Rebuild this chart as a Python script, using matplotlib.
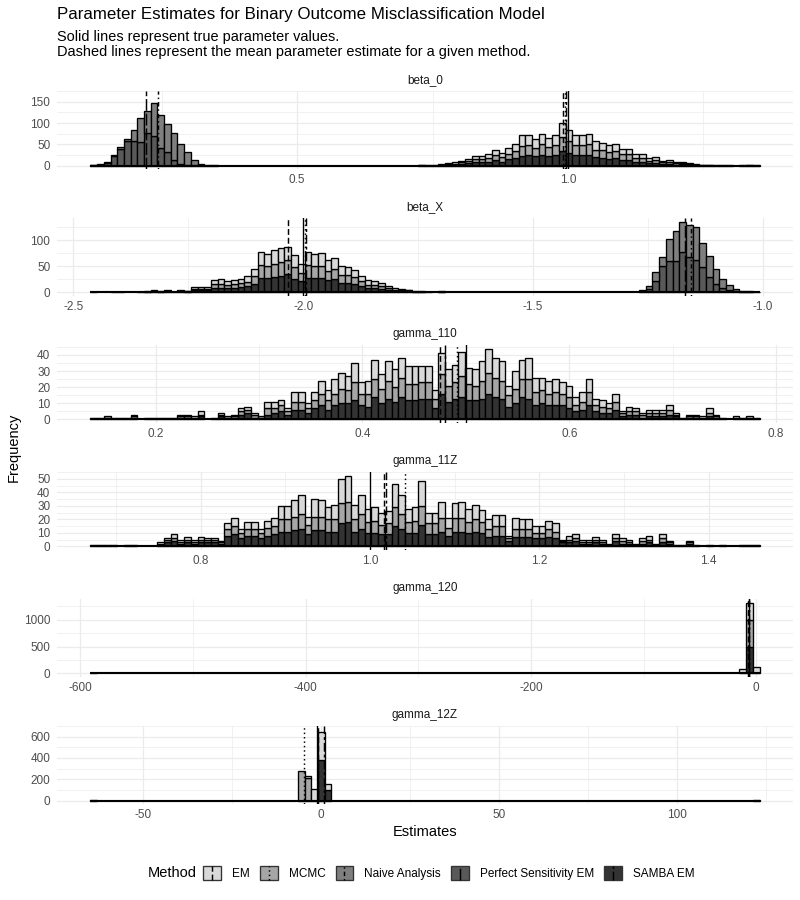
import matplotlib
matplotlib.use("Agg")
import matplotlib.pyplot as plt
import numpy as np
from matplotlib.legend_handler import HandlerBase
from matplotlib.patches import Rectangle
from matplotlib.lines import Line2D

plt.rcParams['font.family'] = ['Liberation Sans', 'DejaVu Sans']

# methods, in legend order (first level is stacked on top)
methods = ["EM", "MCMC", "Naive Analysis", "Perfect Sensitivity EM", "SAMBA EM"]
fills = ["#D9D9D9", "#A6A6A6", "#7F7F7F", "#595959", "#333333"]
dashes = [(0, (4, 2)), (0, (1, 2)), (0, (1, 2, 3, 2)), (0, (8, 2)), (0, (6, 2, 2, 2))]

params = ["beta_0", "beta_X", "gamma_110", "gamma_11Z", "gamma_120", "gamma_12Z"]
NBINS = 100
# histogram range (min / max estimate) per parameter
range_lo = [0.118, -2.463, 0.137, 0.670, -591.0, -64.9]
range_hi = [1.354, -1.007, 0.784, 1.460, 3.0, 123.3]

true_vals = [1.0, -2.0, 0.5, 1.0, -6.8, -1.1]
mean_em = [0.991, -2.034, 0.475, 1.017, -7.4, -1.0]
mean_mcmc = [0.994, -1.997, 0.491, 1.041, -6.3, -4.9]
mean_naive = [0.243, -1.156, None, None, None, None]
mean_perfect = [0.221, -1.170, None, None, None, None]
mean_samba = [0.997, -1.993, 0.480, 1.019, -6.8, 0.85]

# ---- bin counts ----
# beta_0
b0_em = [0, 1, 0, 1, 2, 3, 4, 6, 8, 7, 9, 12, 10, 14, 16, 24, 23, 20, 25, 21, 24, 33, 28, 23, 23, 25,
         19, 17, 16, 16, 13, 13, 9, 9, 6, 7, 4, 5, 3, 3, 2, 1, 0, 1, 0, 0, 0, 0, 0, 1, 0]
b0_mcmc = [1, 0, 0, 1, 2, 2, 4, 5, 8, 7, 8, 12, 10, 13, 16, 23, 23, 20, 24, 21, 24, 32, 27, 23, 23, 24,
           18, 17, 15, 16, 13, 13, 8, 9, 6, 6, 4, 4, 3, 3, 2, 2, 1, 0, 1, 0, 1, 0, 0, 0, 1]
b0_samba = [1, 0, 1, 2, 2, 3, 4, 6, 8, 8, 10, 13, 10, 15, 18, 24, 25, 22, 26, 23, 25, 35, 30, 25, 25, 26,
            20, 19, 17, 18, 14, 14, 10, 10, 6, 7, 4, 5, 3, 4, 2, 1, 1, 1, 0, 1, 0, 0, 1, 1, 0]
b0_naive = [1, 2, 3, 3, 4, 4, 27, 56, 51, 76, 76, 67, 64, 45, 29, 12, 5, 2, 1]
b0_perfect = [1, 2, 6, 22, 40, 58, 58, 56, 78, 70, 42, 32, 14, 5, 3, 1, 0, 0, 0]

# beta_X
bx_em = [1, 0, 0, 0, 0, 0, 0, 1, 1, 1, 0, 1, 1, 1, 1, 4, 3, 3, 8, 8, 7, 7, 8, 10, 14, 25, 24, 27, 27, 26,
         24, 17, 26, 24, 25, 21, 22, 16, 15, 15, 10, 8, 7, 6, 4, 3, 2, 1, 1, 0, 1, 0, 1]
bx_mcmc = [0, 0, 0, 0, 1, 0, 0, 0, 0, 1, 1, 1, 0, 1, 1, 3, 3, 3, 7, 8, 7, 7, 8, 9, 14, 24, 23, 25, 27, 26,
           22, 16, 24, 23, 23, 19, 20, 16, 15, 13, 10, 7, 7, 6, 4, 2, 2, 2, 0, 1, 0, 0, 0]
bx_samba = [0, 0, 0, 1, 0, 0, 0, 0, 1, 2, 1, 2, 0, 2, 1, 4, 4, 4, 9, 9, 8, 9, 10, 12, 17, 28, 27, 30, 32, 36,
            26, 22, 28, 27, 28, 23, 25, 18, 18, 16, 12, 8, 8, 7, 4, 3, 3, 2, 1, 1, 0, 0, 1]
bx_naive = [2, 6, 18, 18, 42, 58, 58, 62, 64, 47, 40, 29, 17, 10, 4, 2, 1, 1]
bx_perfect = [2, 6, 22, 50, 60, 60, 78, 68, 62, 48, 30, 16, 8, 4, 2, 1, 1, 0]

# gamma_110
g110_em = [0, 0, 0, 0, 0, 0, 1, 0, 0, 0, 0, 0, 0, 1, 1, 1, 2, 0, 0, 1,
           0, 1, 2, 2, 1, 0, 4, 4, 3, 2, 6, 6, 3, 5, 8, 6, 9, 10, 9, 12,
           7, 8, 12, 9, 12, 11, 12, 11, 11, 10, 10, 5, 13, 10, 11, 15, 10, 10, 12, 15,
           12, 12, 6, 11, 12, 13, 9, 8, 8, 8, 7, 7, 5, 6, 8, 4, 4, 3, 5, 1,
           3, 2, 1, 2, 2, 2, 3, 1, 0, 1, 1, 1, 3, 1, 1, 0, 1, 0, 1, 0]
g110_mcmc = [0, 0, 1, 0, 1, 0, 1, 0, 0, 1, 0, 1, 0, 1, 1, 0, 1, 0, 1, 1,
             1, 1, 2, 2, 2, 1, 4, 3, 4, 2, 5, 5, 3, 5, 7, 6, 7, 9, 8, 11,
             7, 8, 11, 9, 11, 9, 12, 10, 10, 10, 10, 6, 12, 10, 10, 13, 10, 9, 11, 13,
             12, 11, 7, 9, 11, 12, 8, 8, 7, 8, 7, 7, 4, 5, 8, 4, 4, 3, 5, 2,
             2, 2, 2, 2, 2, 2, 3, 1, 1, 1, 1, 0, 2, 1, 0, 0, 0, 1, 0, 1]
g110_samba = [1, 1, 1, 1, 0, 1, 1, 0, 1, 0, 1, 0, 1, 1, 1, 1, 2, 0, 0, 2,
              1, 1, 3, 4, 1, 1, 3, 4, 5, 3, 6, 6, 4, 7, 9, 6, 9, 10, 10, 12,
              9, 8, 14, 10, 13, 11, 14, 12, 12, 13, 13, 7, 16, 11, 13, 14, 12, 12, 13, 16,
              14, 13, 8, 10, 14, 13, 9, 10, 9, 9, 9, 7, 5, 6, 9, 5, 4, 4, 6, 2,
              3, 3, 1, 2, 2, 2, 3, 2, 0, 1, 1, 1, 2, 1, 0, 0, 1, 0, 1, 0]

# gamma_11Z
g11z_em = [0, 0, 0, 0, 0, 0, 0, 0, 0, 0, 1, 1, 3, 2, 2, 2, 2, 1, 1, 1,
           4, 6, 3, 5, 5, 3, 5, 6, 10, 10, 12, 14, 6, 13, 12, 9, 11, 18, 19, 11,
           14, 10, 10, 9, 9, 17, 14, 10, 10, 18, 8, 8, 12, 7, 11, 12, 10, 11, 9, 7,
           8, 8, 2, 8, 7, 7, 5, 5, 6, 6, 1, 3, 3, 2, 2, 2, 2, 0, 3, 2,
           2, 0, 2, 3, 0, 3, 1, 0, 0, 1, 0, 0, 0, 0, 0, 0, 0, 0, 0, 0]
g11z_mcmc = [0, 0, 0, 0, 0, 0, 0, 0, 0, 0, 1, 2, 2, 1, 2, 1, 2, 2, 2, 1,
             5, 6, 4, 5, 5, 4, 6, 6, 9, 9, 10, 11, 7, 10, 10, 9, 9, 15, 15, 9,
             11, 8, 9, 7, 8, 14, 11, 8, 9, 14, 8, 8, 10, 6, 10, 10, 8, 9, 8, 6,
             7, 7, 2, 6, 6, 6, 4, 4, 6, 5, 1, 2, 2, 1, 1, 2, 1, 1, 2, 2,
             1, 1, 2, 2, 1, 3, 1, 0, 0, 1, 0, 0, 0, 0, 0, 0, 0, 0, 0, 0]
g11z_samba = [1, 1, 1, 1, 0, 1, 1, 0, 0, 0, 1, 3, 4, 2, 3, 2, 3, 3, 3, 2,
              8, 9, 6, 8, 8, 6, 8, 9, 11, 11, 12, 13, 9, 12, 12, 11, 11, 17, 18, 11,
              13, 10, 10, 9, 9, 15, 13, 10, 10, 16, 9, 9, 11, 8, 11, 11, 10, 11, 10, 7,
              8, 8, 4, 7, 7, 7, 6, 6, 7, 6, 3, 3, 4, 2, 2, 3, 2, 1, 4, 2,
              2, 1, 2, 3, 1, 3, 2, 1, 1, 2, 1, 0, 1, 0, 1, 0, 0, 1, 1, 1]

# gamma_120 (sparse: bin index, count)
g120_em_bins = [0, 97, 98, 99]
g120_em = [1, 75, 320, 113]
g120_mcmc = [500]
g120_samba = [500]

# gamma_12Z
g12z_em_bins = [0, 32, 33, 34, 35, 99]
g12z_em = [1, 21, 109, 261, 58, 1]
g12z_mcmc = [273, 213]
g12z_samba = [382, 100]

xticks = [[0.5, 1.0], [-2.5, -2.0, -1.5, -1.0], [0.2, 0.4, 0.6, 0.8], [0.8, 1.0, 1.2, 1.4],
          [-600, -400, -200, 0], [-50, 0, 50, 100]]
xlabels = [["0.5", "1.0"], ["-2.5", "-2.0", "-1.5", "-1.0"], ["0.2", "0.4", "0.6", "0.8"],
           ["0.8", "1.0", "1.2", "1.4"], ["-600", "-400", "-200", "0"], ["-50", "0", "50", "100"]]
xminor = [[0.25, 0.75, 1.25], [-2.25, -1.75, -1.25], [0.3, 0.5, 0.7], [0.7, 0.9, 1.1, 1.3],
          [-500, -300, -100], [-25, 25, 75, 125]]
yticks = [[0, 50, 100, 150], [0, 50, 100], [0, 10, 20, 30, 40], [0, 10, 20, 30, 40, 50],
          [0, 500, 1000], [0, 200, 400, 600]]


def counts(vals, start=0, bins=None):
    c = np.zeros(NBINS)
    if bins is None:
        bins = np.arange(start, start + len(vals))
    c[np.asarray(bins)] = vals
    return c


series = [
    {"EM": counts(b0_em, 49), "MCMC": counts(b0_mcmc, 49), "SAMBA EM": counts(b0_samba, 49),
     "Naive Analysis": counts(b0_naive, 0), "Perfect Sensitivity EM": counts(b0_perfect, 0)},
    {"EM": counts(bx_em, 0), "MCMC": counts(bx_mcmc, 0), "SAMBA EM": counts(bx_samba, 0),
     "Naive Analysis": counts(bx_naive, 82), "Perfect Sensitivity EM": counts(bx_perfect, 82)},
    {"EM": counts(g110_em), "MCMC": counts(g110_mcmc), "SAMBA EM": counts(g110_samba)},
    {"EM": counts(g11z_em), "MCMC": counts(g11z_mcmc), "SAMBA EM": counts(g11z_samba)},
    {"EM": counts(g120_em, bins=g120_em_bins), "MCMC": counts(g120_mcmc, 98),
     "SAMBA EM": counts(g120_samba, 98)},
    {"EM": counts(g12z_em, bins=g12z_em_bins), "MCMC": counts(g12z_mcmc, 31),
     "SAMBA EM": counts(g12z_samba, 34)},
]
means = {"EM": mean_em, "MCMC": mean_mcmc, "Naive Analysis": mean_naive,
         "Perfect Sensitivity EM": mean_perfect, "SAMBA EM": mean_samba}

W, H = 800, 900
fig = plt.figure(figsize=(W / 96, H / 96), dpi=96)

def fx(px):
    return px / W

def fy(py):
    return 1 - py / H

panel_left, panel_right = 57, 793
panel_tops = [91, 218, 345, 472, 599, 726]
panel_h = 78
grid_col = "#EBEBEB"

for i, name in enumerate(params):
    top = panel_tops[i]
    ax = fig.add_axes([fx(panel_left), fy(top + panel_h), fx(panel_right - panel_left), panel_h / H])
    lo, hi = range_lo[i], range_hi[i]
    edges = np.linspace(lo, hi, NBINS + 1)
    w = edges[1] - edges[0]
    bottom = np.zeros(NBINS)
    for m, col in zip(methods[::-1], fills[::-1]):
        if m not in series[i]:
            continue
        c = series[i][m]
        keep = c > 0
        ax.bar(edges[:-1][keep], c[keep], width=w, bottom=bottom[keep], align="edge",
               color=col, edgecolor="black", linewidth=1.0, zorder=2)
        bottom += c
    ax.hlines(0, lo, hi, color="black", lw=1.6, zorder=3)

    for m, ls in zip(methods, dashes):
        v = means[m][i]
        if v is not None:
            ax.axvline(v, color="black", lw=1.1, ls=ls, zorder=4)
    ax.axvline(true_vals[i], color="black", lw=1.0, zorder=4)

    span = hi - lo
    ax.set_xlim(lo - 0.05 * span, hi + 0.05 * span)
    ymax = bottom.max()
    ax.set_ylim(-0.05 * ymax, 1.05 * ymax)

    ax.set_xticks(xticks[i])
    ax.set_xticklabels(xlabels[i])
    ax.set_xticks(xminor[i], minor=True)
    yt = yticks[i]
    ax.set_yticks(yt)
    ax.set_yticks([(a + b) / 2 for a, b in zip(yt[:-1], yt[1:])] + [yt[-1] + (yt[1] - yt[0]) / 2], minor=True)
    ax.grid(True, which="major", color=grid_col, lw=0.9)
    ax.grid(True, which="minor", color=grid_col, lw=0.5)
    ax.set_axisbelow(True)
    ax.tick_params(which="both", length=0, labelsize=8.8, labelcolor="#4D4D4D")
    ax.tick_params(axis="x", pad=4)
    ax.tick_params(axis="y", pad=5)
    for s in ax.spines.values():
        s.set_visible(False)
    ax.annotate(name, xy=(0.5, 1), xycoords="axes fraction", xytext=(0, 8), textcoords="offset points",
                ha="center", va="center", fontsize=8.8, color="#1A1A1A")

fig.text(fx(57), fy(15), "Parameter Estimates for Binary Outcome Misclassification Model",
         fontsize=12.7, ha="left", va="center")
fig.text(fx(57), fy(37), "Solid lines represent true parameter values.", fontsize=10.9, ha="left", va="center")
fig.text(fx(57), fy(52), "Dashed lines represent the mean parameter estimate for a given method.",
         fontsize=10.9, ha="left", va="center")
fig.text(fx(425), fy(832), "Estimates", fontsize=11, ha="center", va="center")
fig.text(fx(14), fy(447), "Frequency", fontsize=11, ha="center", va="center", rotation=90)


class Key:
    def __init__(self, fill, ls):
        self.fill = fill
        self.ls = ls


class KeyHandler(HandlerBase):
    def create_artists(self, legend, orig_handle, xdescent, ydescent, width, height, fontsize, trans):
        rect = Rectangle((-xdescent, -ydescent), width, height, facecolor=orig_handle.fill,
                         edgecolor="#333333", lw=1.0, transform=trans)
        xm = -xdescent + width / 2
        line = Line2D([xm, xm], [-ydescent, height - ydescent], color="black", lw=1.1,
                      ls=orig_handle.ls, transform=trans)
        return [rect, line]


handles = [Key(f, d) for f, d in zip(fills, dashes)]
fig.legend(handles, methods, handler_map={Key: KeyHandler()}, loc="center",
           bbox_to_anchor=(fx(449), fy(873)), ncol=5, frameon=False, fontsize=8.8,
           handlelength=1.53, handleheight=1.53, handletextpad=0.94, columnspacing=0.85,
           borderpad=0, borderaxespad=0)
fig.text(fx(197), fy(873), "Method", fontsize=11, ha="right", va="center")

fig.savefig("out.png", dpi=96)
